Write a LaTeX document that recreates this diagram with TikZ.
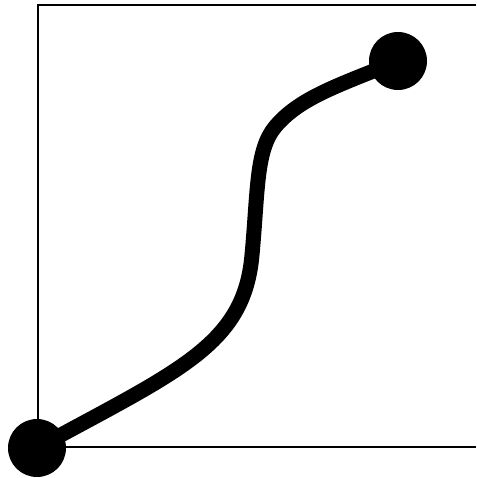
\documentclass[tikz,border=0pt]{standalone}
\begin{document}
\begin{tikzpicture}[x=1pt,y=-1pt,
  frame/.style={line width=2.4pt,line cap=butt},
  curve/.style={line width=15pt,line cap=round},
  dot/.style={circle,fill=black,inner sep=0pt,minimum size=58pt}]
\useasboundingbox (0,0) rectangle (476,478);
\draw[frame] (476,5) -- (38,5) -- (38,447) -- (476,447);
\coordinate (p) at (37,448);
\coordinate (q) at (398,61);
\draw[curve] (p) .. controls (180,370) and (244,345) .. (252,255)
  .. controls (258,190) and (256,150) .. (275,127)
  .. controls (300,97) and (340,85) .. (q);
\node[dot] (start) at (p) {};
\node[dot] (end) at (q) {};
\end{tikzpicture}
\end{document}
